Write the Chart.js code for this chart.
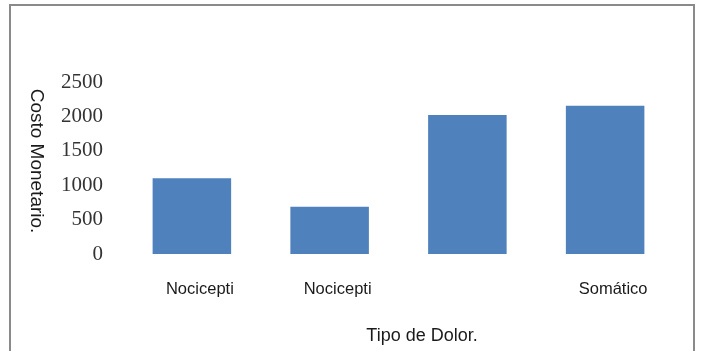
<!DOCTYPE html>
<html>
<head>
<meta charset="utf-8">
<script src="https://cdn.jsdelivr.net/npm/chart.js@4/dist/chart.umd.min.js"></script>
<style>
  html, body { margin: 0; padding: 0; background: #ffffff; }
  #wrap { position: relative; width: 701px; height: 351px; }
</style>
</head>
<body>
<div id="wrap"><canvas id="costoChart" width="701" height="351"></canvas></div>
<script>
// Costo por tipo de dolor
const categorias = ['Nocicepti', 'Nocicepti', '', 'Somático'];
const costos = [1100, 685, 2020, 2155];
const ticksY = [0, 500, 1000, 1500, 2000, 2500];

const tituloY = 'Costo Monetario.';
const tituloX = 'Tipo de Dolor.';

// Marco gris y títulos de los ejes dibujados a mano
const marcoYTitulos = {
    id: 'marcoYTitulos',
    beforeDraw(chart) {
        const ctx = chart.ctx;
        ctx.save();
        ctx.fillStyle = '#ffffff';
        ctx.fillRect(0, 0, chart.width, chart.height);
        ctx.strokeStyle = '#8a8a8a';
        ctx.lineWidth = 2;
        ctx.beginPath();
        ctx.moveTo(10, 360);
        ctx.lineTo(10, 5);
        ctx.lineTo(694, 5);
        ctx.lineTo(694, 360);
        ctx.stroke();
        ctx.restore();
    },
    afterDraw(chart) {
        const ctx = chart.ctx;
        ctx.save();
        ctx.fillStyle = '#1a1a1a';
        ctx.font = '18px "Liberation Sans", Arial, sans-serif';
        ctx.textAlign = 'center';
        ctx.textBaseline = 'middle';
        ctx.fillText(tituloX, 422, 336);
        ctx.font = '19px "Liberation Sans", Arial, sans-serif';
        ctx.translate(36, 161);
        ctx.rotate(Math.PI / 2);
        ctx.fillText(tituloY, 0, 0);
        ctx.restore();
    }
};

const ctx = document.getElementById('costoChart').getContext('2d');
const costoChart = new Chart(ctx, {
    type: 'bar',
    data: {
        labels: categorias,
        datasets: [{
            data: costos,
            backgroundColor: '#4f81bd',
            borderWidth: 0,
            categoryPercentage: 1.0,
            barPercentage: 0.57
        }]
    },
    options: {
        responsive: false,
        animation: false,
        layout: {
            padding: { left: 57, right: 27, top: 82, bottom: 51 }
        },
        plugins: {
            legend: { display: false },
            tooltip: { enabled: false }
        },
        scales: {
            x: {
                grid: { display: false, drawTicks: false },
                border: { display: false },
                ticks: {
                    color: '#1a1a1a',
                    padding: 26,
                    labelOffset: 8,
                    maxRotation: 0,
                    autoSkip: false,
                    font: { family: '"Liberation Sans", Arial, sans-serif', size: 16.5 }
                },
                afterFit(scale) { scale.height = 46; }
            },
            y: {
                min: 0,
                max: 2500,
                grid: { display: false, drawTicks: false },
                border: { display: false },
                afterBuildTicks(scale) {
                    scale.ticks = ticksY.map(v => ({ value: v }));
                },
                ticks: {
                    color: '#333333',
                    padding: 20,
                    font: { family: '"Liberation Serif", "Times New Roman", serif', size: 21 },
                    callback: function(value) {
                        return String(value);
                    }
                },
                afterFit(scale) { scale.width = 66; }
            }
        }
    },
    plugins: [marcoYTitulos]
});
</script>
</body>
</html>
